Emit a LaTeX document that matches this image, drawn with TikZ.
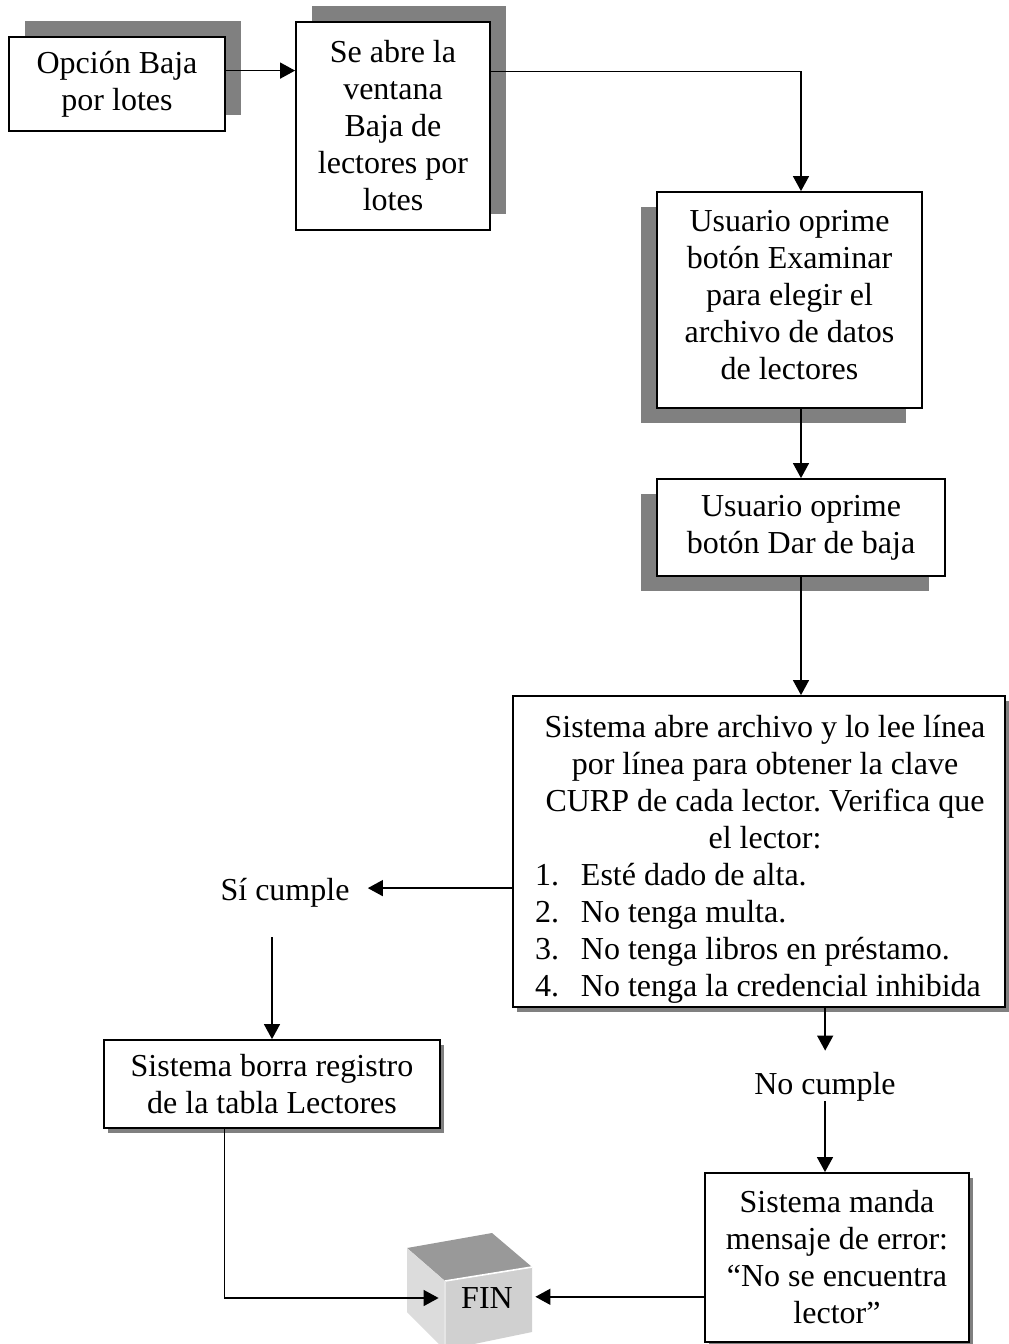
\documentclass[tikz,border=0pt]{standalone}
\usepackage{fontspec}
\setmainfont{Liberation Serif}
\usetikzlibrary{arrows.meta,calc,shadows}
\definecolor{shadowgray}{RGB}{128,128,128}
\definecolor{cubetop}{RGB}{153,153,153}
\definecolor{cubeleft}{RGB}{220,220,220}
\definecolor{cubefront}{RGB}{208,208,208}
\frenchspacing
\newcommand{\listline}[2]{\makebox[246pt][l]{\hspace*{11pt}\makebox[23pt][l]{#1}#2}}
\begin{document}
\begin{tikzpicture}[x=0.5pt,y=-0.5pt,
  every node/.style={font=\fontsize{16}{18.5}\selectfont},
  box/.style={draw,line width=0.9pt,fill=white,align=center,inner sep=0pt},
  shUR/.style={general shadow={fill=shadowgray,shadow xshift=8pt,shadow yshift=8pt}},
  shDL/.style={general shadow={fill=shadowgray,shadow xshift=-8pt,shadow yshift=-7.5pt}},
  shDR/.style={general shadow={fill=shadowgray,shadow xshift=2pt,shadow yshift=-2.5pt}},
  arr/.style={line width=0.7pt,-{Triangle[length=7.5pt,width=8pt]}},
  lbl/.style={inner xsep=9pt,inner ysep=0pt}]
\fill[white] (0,0) rectangle (1008,1344);
\useasboundingbox (0,0) rectangle (1008,1344);

\node[box,shUR,minimum width=108pt,minimum height=47pt] (b1) at (117,84) {Opción Baja\\por lotes};
\node[box,shUR,minimum width=97pt,minimum height=104pt] (b2) at (393,126) {Se abre la\\ventana\\Baja de\\lectores por\\lotes};
\node[box,shDL,minimum width=132.5pt,minimum height=108pt] (b3) at (789.5,300) {Usuario oprime\\botón Examinar\\para elegir el\\archivo de datos\\de lectores\rule[-5pt]{0pt}{5pt}};
\node[box,shDL,minimum width=144pt,minimum height=48.5pt] (b4) at (801,527.5) {Usuario oprime\\botón Dar de baja};
\node[box,shDR,minimum width=246pt,minimum height=155.5pt] (b5) at (759,851.5) {\rule{0pt}{18.5pt}\hspace*{6pt}Sistema abre archivo y lo lee línea\\
\hspace*{6pt}por línea para obtener la clave\\
\hspace*{6pt}CURP de cada lector. Verifica que\\
\hspace*{6pt}el lector:\\
\listline{1.}{Esté dado de alta.}\\
\listline{2.}{No tenga multa.}\\
\listline{3.}{No tenga libros en préstamo.}\\
\listline{4.}{No tenga la credencial inhibida}};
\node[lbl,minimum height=44pt] (si) at (285,893) {Sí cumple};
\node[box,shDR,minimum width=168pt,minimum height=44pt] (b6) at (272,1084) {Sistema borra registro\\de la tabla Lectores};
\node[lbl,minimum height=32pt] (no) at (825,1087) {No cumple};
\node[box,shDR,minimum width=132pt,minimum height=84.5pt] (b7) at (837,1257.5) {Sistema manda\\mensaje de error:\\``No se encuentra\\lector''};

% FIN cube
\fill[cubetop] (407,1248) -- (492,1233) -- (532,1267) -- (445,1281) -- cycle;
\fill[cubeleft] (407,1248) -- (445,1281) -- (445,1350) -- (407,1312) -- cycle;
\fill[cubefront] (445,1281) -- (532,1267) -- (532,1332) -- (445,1350) -- cycle;
\draw[white,line width=0.8pt] (445,1281) -- (532,1267);
\draw[white!90!black,line width=0.6pt] (445,1281) -- (445,1350);
\node[minimum width=48pt,inner sep=0pt] (fin) at (487,1298) {FIN};

% connectors
\coordinate (c1) at ($(b1.north east)!0.36!(b1.south east)$);
\draw[arr] (c1) -- (c1 -| b2.west);
\coordinate (c2) at ($(b2.north east)!0.24!(b2.south east)$);
\draw[arr] (c2) -| (b4.north |- b3.north);
\draw[arr] (b4.north |- b3.south) -- (b4.north);
\draw[arr] (b4.south) -- (b4.south |- b5.north);
\coordinate (c5) at ($(b5.north west)!0.617!(b5.south west)$);
\draw[arr] (c5) -- (c5 -| si.east);
\draw[arr] (si.south -| b6.north) -- (b6.north);
\coordinate (c6) at ($(b6.south west)!0.36!(b6.south east)$);
\draw[arr] (c6) |- (fin.west);
\coordinate (c8) at ($(b5.south west)!0.634!(b5.south east)$);
\draw[arr] (c8) -- ([yshift=2pt]c8 |- no.north);
\draw[arr] ([yshift=9pt]no.south) -- (no.south |- b7.north);
\coordinate (c7) at ($(b7.north west)!0.73!(b7.south west)$);
\draw[arr] (c7) -- (c7 -| fin.east);
\end{tikzpicture}
\end{document}
